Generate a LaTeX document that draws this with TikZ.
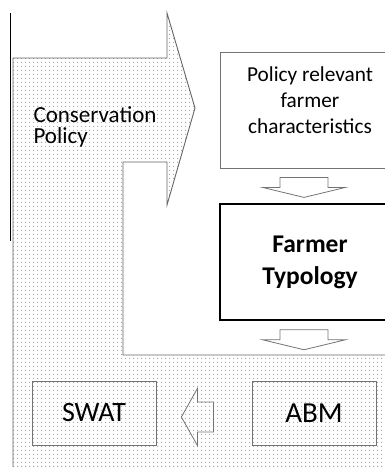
\documentclass[tikz,border=0pt]{standalone}
\usepackage{fontspec}
\setmainfont{Carlito}
\usetikzlibrary{patterns,calc}

\pgfdeclarepatternformonly{sparse dots}{\pgfpointorigin}{\pgfqpoint{4pt}{4pt}}{\pgfqpoint{4pt}{4pt}}
  {\pgfpathrectangle{\pgfqpoint{1.5pt}{1.5pt}}{\pgfqpoint{1pt}{1pt}}\pgfusepath{fill}}

\begin{document}
\begin{tikzpicture}[x=1pt, y=-1pt,
    box/.style={draw=gray!90!black, line width=0.8pt, inner sep=0pt, align=center},
    blockarrow/.style={draw=gray!90!black, line width=0.8pt}]
    \useasboundingbox (0,0) rectangle (385,467);

    % Dotted policy area with its arrow
    \path[pattern=sparse dots, pattern color=gray!65]
      (13,475) -- (13,58) -- (167,58) -- (167,13) -- (195,108) -- (167,205)
      -- (167,162) -- (123,162) -- (123,355) -- (395,355) -- (395,475) -- cycle;
    \draw[gray!80!black, line width=0.9pt]
      (13,475) -- (13,58) -- (167,58) -- (167,13) -- (195,108) -- (167,205)
      -- (167,162) -- (123,162) -- (123,355) -- (395,355);
    \draw[black, line width=1.2pt] (10.5,13) -- (10.5,241);

    % Labels and boxes
    \node[anchor=west, align=left, font=\fontsize{23}{21}\selectfont] (policy) at (30,127) {Conservation\\Policy};
    \node[box, minimum width=180pt, minimum height=116pt, font=\fontsize{21.3}{26}\selectfont] (chars) at (310,110) {Policy relevant\\farmer\\characteristics\\[-6pt]};
    \node[box, draw=black, line width=1.5pt, minimum width=180pt, minimum height=116pt, font=\bfseries\fontsize{25.5}{32}\selectfont] (typology) at (310,262) {Farmer\\Typology};
    \node[box, minimum width=124pt, minimum height=64pt, font=\fontsize{28}{32}\selectfont] (swat) at (94,413) {SWAT};
    \node[box, minimum width=124pt, minimum height=64pt, font=\fontsize{29}{32}\selectfont] (abm) at (314,413) {ABM};

    % Block arrows between boxes
    \coordinate (d1) at ($(chars.south)+(-6,19)$);
    \coordinate (d2) at ($(typology.south)+(-6,19)$);
    \coordinate (l1) at ($(swat.east)+(41,4)$);
    \draw[blockarrow] (d1) ++(-24,-10) -- ++(48,0) -- ++(0,10) -- ++(17.5,0) -- ++(-41.5,10) -- ++(-41.5,-10) -- ++(17.5,0) -- cycle;
    \draw[blockarrow] (d2) ++(-24,-10) -- ++(48,0) -- ++(0,10) -- ++(17.5,0) -- ++(-41.5,10) -- ++(-41.5,-10) -- ++(17.5,0) -- cycle;
    \draw[blockarrow] (l1) ++(16,-15) -- ++(-16,0) -- ++(0,-13.5) -- ++(-16,28.5) -- ++(16,28.5) -- ++(0,-13.5) -- ++(16,0) -- cycle;
\end{tikzpicture}
\end{document}
